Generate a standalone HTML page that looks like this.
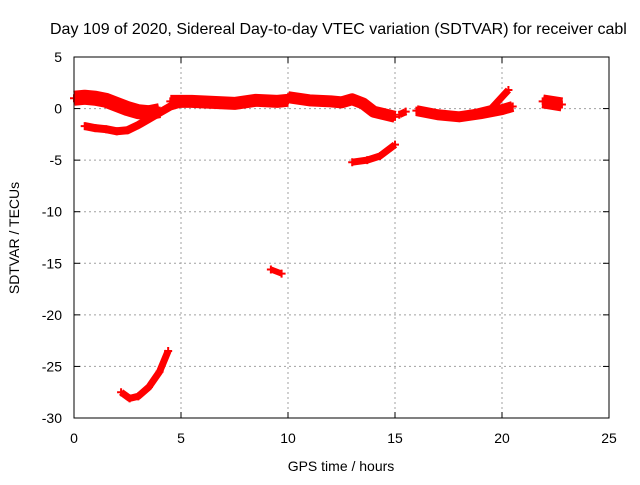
<!DOCTYPE html>
<html><head><meta charset="utf-8"><style>
body{margin:0;background:#fff}
svg text{font-family:"Liberation Sans",sans-serif;font-size:14px;fill:#000}
</style></head><body>
<svg id="c" width="640" height="480">
<text x="50" y="34" style="font-size:16px">Day 109 of 2020, Sidereal Day-to-day VTEC variation (SDTVAR) for receiver cabl</text>
<text x="341" y="471" text-anchor="middle">GPS time / hours</text>
<text transform="translate(19,238) rotate(-90)" text-anchor="middle">SDTVAR / TECUs</text>
<g id="grid"></g><g id="data"></g>
<rect x="74" y="57" width="535" height="361" fill="none" stroke="#000" stroke-width="1"/>
</svg>
<script>
const xTicks=[0,5,10,15,20,25];
const yTicks=[5,0,-5,-10,-15,-20,-25,-30];
const segA=[[0,1],[0.5,1.1],[1,1],[1.5,0.8],[2,0.4],[2.5,0],[3,-0.3],[3.5,-0.4],[4,-0.2]];
const segB=[[0.5,-1.7],[1,-1.9],[1.5,-2.0],[2,-2.2],[2.5,-2.1],[3,-1.6],[3.5,-1.0],[4,-0.4],[4.5,0.2],[5,0.5]];
const segC=[[4.5,0.7],[5.5,0.7],[6.5,0.6],[7.5,0.5],[8.5,0.8],[9.5,0.7],[10,0.8]];
const segD=[[10,1.1],[11,0.8],[12,0.7],[12.5,0.6],[13,0.9],[13.5,0.5],[14,-0.3],[15,-0.8]];
const segE=[[15.2,-0.6],[15.5,-0.3]];
const segF=[[16,-0.2],[17,-0.6],[18,-0.8],[19,-0.5],[20,-0.1],[20.5,0.2]];
const segG=[[18.5,-0.5],[19.5,0],[20.3,1.8]];
const segH=[[21.9,0.7],[22.8,0.4]];
const segI=[[13,-5.2],[13.7,-5.0],[14.3,-4.6],[15,-3.5]];
const segJ=[[9.2,-15.6],[9.7,-16]];
const segK=[[2.2,-27.5],[2.6,-28.1],[3,-27.9],[3.5,-27],[4,-25.5],[4.4,-23.5]];
const segments=[segA,segB,segC,segD,segE,segF,segG,segH,segI,segJ,segK];
const widths=[15,8,13,12,7,11,7,14,7,6,7];
const X=v=>74+v*535/25, Y=v=>57+(5-v)*361/35;
const NS="http://www.w3.org/2000/svg";
const grid=document.getElementById('grid'),data=document.getElementById('data'),svg=document.getElementById('c');
function mk(t,a,p){const e=document.createElementNS(NS,t);for(const k in a)e.setAttribute(k,a[k]);p.appendChild(e);return e;}
xTicks.forEach(t=>{
 const x=X(t);
 if(t>0&&t<25){const l=mk('line',{x1:x,x2:x,y1:57,y2:418,stroke:'#a0a0a0','stroke-dasharray':'2,3'},grid);
 }
 mk('line',{x1:x,x2:x,y1:418,y2:412,stroke:'#000'},grid);mk('line',{x1:x,x2:x,y1:57,y2:63,stroke:'#000'},grid);
 const tx=mk('text',{x:x,y:443,'text-anchor':'middle'},svg);tx.textContent=t;
 
});
yTicks.forEach(t=>{
 const y=Y(t);
 if(t<5&&t>-30){const l=mk('line',{x1:74,x2:609,y1:y,y2:y,stroke:'#a0a0a0','stroke-dasharray':'2,3'},grid);
 }
 mk('line',{x1:74,x2:80,y1:y,y2:y,stroke:'#000'},grid);mk('line',{x1:609,x2:603,y1:y,y2:y,stroke:'#000'},grid);
 const tx=mk('text',{x:62,y:y+5,'text-anchor':'end'},svg);tx.textContent=t;
 
});
segments.forEach((s,i)=>{
 const p=mk('polyline',{points:s.map(d=>X(d[0])+','+Y(d[1])).join(' '),fill:'none',stroke:'#f00','stroke-width':widths[i],'stroke-linejoin':'round','stroke-linecap':'butt'},data);
 
 
 s.forEach(d=>{const x=X(d[0]),y=Y(d[1]);
  mk('path',{d:`M${x-4},${y}h8M${x},${y-4}v8`,stroke:'#f00','stroke-width':2},data);});
});
</script>
</body></html>
